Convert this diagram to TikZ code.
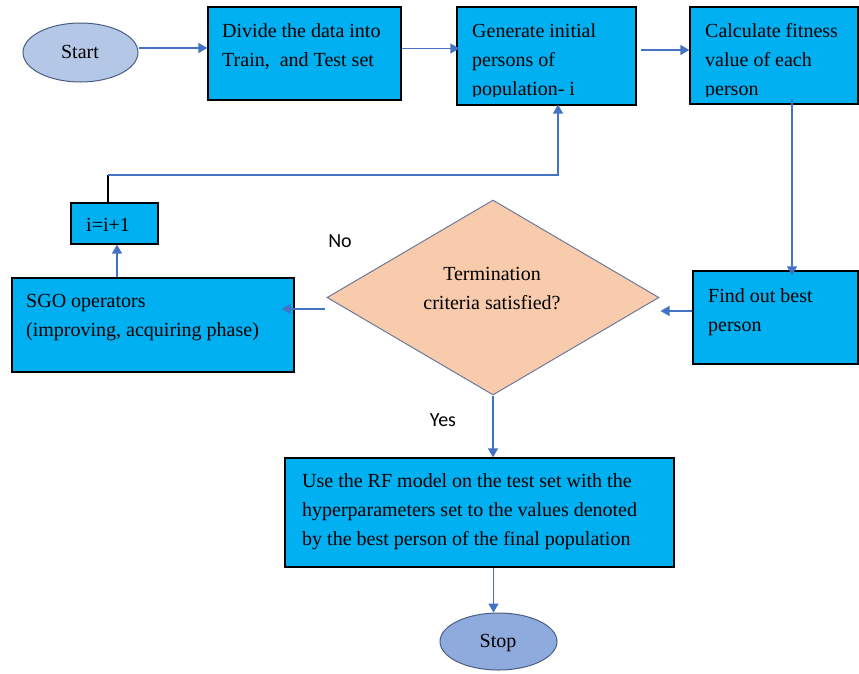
\documentclass[tikz,border=0pt]{standalone}
\usepackage{fontspec}
\setmainfont{Liberation Serif}
\newfontfamily\lblfont{Carlito}
\usetikzlibrary{arrows.meta,shapes.geometric}
\definecolor{boxcyan}{HTML}{00B0F0}
\definecolor{startfill}{HTML}{B4C7E7}
\definecolor{stopfill}{HTML}{8FAADC}
\definecolor{ovalline}{HTML}{4A5E80}
\definecolor{diafill}{HTML}{F8CBAD}
\definecolor{dialine}{HTML}{6B7A99}
\definecolor{arrblue}{HTML}{4472C4}
\begin{document}
\begin{tikzpicture}[x=1pt,y=-1pt,
  box/.style={draw=black, fill=boxcyan, line width=1.3pt, rectangle, inner sep=0pt},
  oval/.style={draw=ovalline, line width=1pt, ellipse, inner sep=0pt},
  boxtext/.style={anchor=base west, inner sep=0pt, font=\fontsize{20}{29}\selectfont},
  arr/.style={draw=arrblue, line width=1.4pt, -{Triangle[length=9pt,width=10pt]}},
  lbl/.style={inner sep=0pt, font=\lblfont\fontsize{20}{24}\selectfont}]
\useasboundingbox (0,0) rectangle (859,673);

% shapes
\node[oval, fill=startfill, minimum width=115pt, minimum height=59pt] (start) at (80.5,52.5) {};
\node[box, minimum width=193pt, minimum height=93pt] (divide) at (304.5,53.5) {};
\node[box, minimum width=179pt, minimum height=98pt] (gen) at (546.5,56) {};
\node[box, minimum width=168pt, minimum height=97pt] (calc) at (774,55.5) {};
\node[box, minimum width=165pt, minimum height=93pt] (find) at (775.5,317.5) {};
\node[diamond, draw=dialine, fill=diafill, line width=1pt, inner sep=0pt,
      minimum width=332pt, minimum height=195pt] (dia) at (493,297.5) {};
\node[box, minimum width=282pt, minimum height=94pt] (sgo) at (153,325) {};
\node[box, minimum width=87pt, minimum height=41pt] (ibox) at (114.5,223.5) {};
\node[box, minimum width=389pt, minimum height=109pt] (rf) at (479.5,512.5) {};
\node[oval, fill=stopfill, minimum width=117pt, minimum height=57pt] (stop) at (498.5,641.5) {};

% texts
\node[boxtext, anchor=base] (tstart) at (80,58) {Start};
\node[boxtext] (tdivide) at (222,37) {\parbox[t]{180pt}{Divide the data into\\Train,\ \ and Test set}};
\begin{scope}
  \clip (gen.north west) rectangle ([yshift=9pt]gen.south east);
  \node[boxtext] (tgen) at (472,37) {\parbox[t]{165pt}{Generate initial\\persons of\\population- i}};
\end{scope}
\begin{scope}
  \clip (calc.north west) rectangle ([yshift=8pt]calc.south east);
  \node[boxtext] (tcalc) at (705,37) {\parbox[t]{150pt}{Calculate fitness\\value of each\\person}};
\end{scope}
\node[boxtext] (tfind) at (708,302) {\parbox[t]{150pt}{Find out best\\person}};
\node[boxtext, anchor=base] (tdia) at (492,280) {\parbox[t]{250pt}{\centering Termination\\criteria satisfied?}};
\node[boxtext] (tsgo) at (26,307) {\parbox[t]{265pt}{SGO operators\\(improving, acquiring phase)}};
\node[boxtext] (ti) at (86,231) {i=i+1};
\node[boxtext] (trf) at (302,487) {\parbox[t]{380pt}{Use the RF model on the test set with the\\hyperparameters set to the values denoted\\by the best person of the final population}};
\node[boxtext, anchor=base] (tstop) at (498,647) {Stop};
\node[lbl] (no) at (340,241) {No};
\node[lbl] (yes) at (443,420) {Yes};

% connectors
\coordinate (loopc) at (108,175);
\draw[arr] ([yshift=4.5pt]start.east) -- ([yshift=4.5pt]start.east -| divide.west);
\draw[arr] ([yshift=5pt]divide.east) -- ([yshift=5pt,xshift=3pt]divide.east -| gen.west);
\draw[arr] ([yshift=6pt,xshift=4pt]gen.east) -- ([yshift=6pt]gen.east -| calc.west);
\draw[arr] ([xshift=18pt,yshift=6pt]calc.south) -- ([xshift=16.5pt,yshift=-5pt]find.north);
\draw[arr] ([yshift=6.5pt]find.west) -- ([xshift=1pt,yshift=-13.5pt]dia.east);
\draw[arr] ([xshift=-2pt,yshift=-11.5pt]dia.west) -- ([xshift=-13pt,yshift=16pt]sgo.east);
\draw[arr] ([xshift=-36pt]sgo.north) -- ([xshift=2.5pt]ibox.south);
\draw[black, line width=1.3pt] ([xshift=-6.5pt]ibox.north) -- (loopc);
\draw[arr] (loopc) -| ([xshift=11.5pt,yshift=1pt]gen.south);
\draw[arr] (dia.south) -- (dia.south |- rf.north);
\draw[arr] ([xshift=14pt]rf.south) -- ([xshift=14pt]rf.south |- stop.north);
\end{tikzpicture}
\end{document}
